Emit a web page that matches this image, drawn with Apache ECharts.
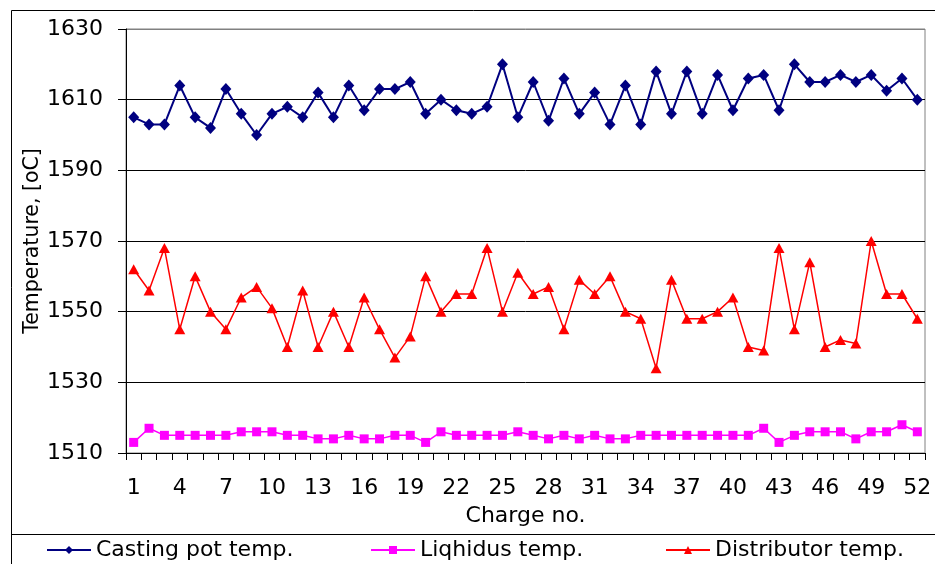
<!DOCTYPE html>
<html>
<head>
<meta charset="utf-8">
<script src="https://cdn.jsdelivr.net/npm/echarts@6/dist/echarts.min.js"></script>
<style>
  html, body { margin: 0; padding: 0; background: #fff; }
  #chart { width: 935px; height: 564px; }
</style>
</head>
<body>
<div id="chart"></div>
<script>
// Charge numbers 1..52
const charges = ['1','2','3','4','5','6','7','8','9','10','11','12','13','14','15','16','17','18','19','20','21','22','23','24','25','26','27','28','29','30','31','32','33','34','35','36','37','38','39','40','41','42','43','44','45','46','47','48','49','50','51','52'];

const castingPot = [1605,1603,1603,1614,1605,1602,1613,1606,1600,1606,
                    1608,1605,1612,1605,1614,1607,1613,1613,1615,1606,
                    1610,1607,1606,1608,1620,1605,1615,1604,1616,1606,
                    1612,1603,1614,1603,1618,1606,1618,1606,1617,1607,
                    1616,1617,1607,1620,1615,1615,1617,1615,1617,1612.5,
                    1616,1610];

const liquidus = [1513,1517,1515,1515,1515,1515,1515,1516,1516,1516,
                  1515,1515,1514,1514,1515,1514,1514,1515,1515,1513,
                  1516,1515,1515,1515,1515,1516,1515,1514,1515,1514,
                  1515,1514,1514,1515,1515,1515,1515,1515,1515,1515,
                  1515,1517,1513,1515,1516,1516,1516,1514,1516,1516,
                  1518,1516];

const distributor = [1562,1556,1568,1545,1560,1550,1545,1554,1557,1551,
                     1540,1556,1540,1550,1540,1554,1545,1537,1543,1560,
                     1550,1555,1555,1568,1550,1561,1555,1557,1545,1559,
                     1555,1560,1550,1548,1534,1559,1548,1548,1550,1554,
                     1540,1539,1568,1545,1564,1540,1542,1541,1570,1555,
                     1555,1548];

const yMin = 1510, yMax = 1630, yStep = 20;

const FONT = '"DejaVu Sans", "Liberation Sans", Arial, sans-serif';

const chart = echarts.init(document.getElementById('chart'), null, { renderer: 'canvas' });

const legendText = { color: '#000', fontSize: 22, fontFamily: FONT };
function legendAt(name, left) {
  return {
    data: [name], left: left, top: 539, itemWidth: 44, itemHeight: 10,
    itemGap: 0, padding: 0, textStyle: legendText, selectedMode: false
  };
}

chart.setOption({
  animation: false,
  backgroundColor: '#fff',
  textStyle: { fontFamily: FONT },
  grid: {
    left: 126, right: 10, top: 29, bottom: 111,
    show: true, borderColor: '#808080', borderWidth: 1, backgroundColor: 'transparent'
  },
  legend: [
    legendAt('Casting pot temp.', 46),
    legendAt('Liqhidus temp.', 370),
    legendAt('Distributor temp.', 665)
  ],
  graphic: [
    { type: 'rect', silent: true, z: -1,
      shape: { x: 11.5, y: 10.5, width: 940, height: 580 },
      style: { fill: 'none', stroke: '#000', lineWidth: 1 } },
    { type: 'line', silent: true,
      shape: { x1: 11, y1: 534.5, x2: 935, y2: 534.5 },
      style: { stroke: '#000', lineWidth: 1 } }
  ],
  xAxis: {
    type: 'category',
    data: charges,
    boundaryGap: true,
    name: 'Charge no.',
    nameLocation: 'middle',
    nameGap: 52,
    nameTextStyle: { color: '#000', fontSize: 22, fontFamily: FONT },
    axisLine: { lineStyle: { color: '#000', width: 1 } },
    axisTick: { show: true, interval: 0, length: 7, alignWithLabel: false, lineStyle: { color: '#000' } },
    axisLabel: { interval: 2, color: '#000', fontSize: 22, fontFamily: FONT, margin: 24 },
    splitLine: { show: false }
  },
  yAxis: {
    type: 'value',
    min: yMin, max: yMax, interval: yStep,
    name: 'Temperature, [oC]',
    nameLocation: 'middle',
    nameGap: 83,
    nameRotate: 90,
    nameMoveOverlap: false,
    nameTextStyle: { color: '#000', fontSize: 20.5, fontFamily: FONT },
    axisLine: { show: true, lineStyle: { color: '#000', width: 1 } },
    axisTick: { show: true, length: 8, lineStyle: { color: '#000' } },
    axisLabel: { color: '#000', fontSize: 22, fontFamily: FONT, margin: 23,
                 formatter: function (v) { return String(v); } },
    splitLine: { show: true, lineStyle: { color: ['#000','#000','#000','#000','#000','#000','#808080'], width: 1 } }
  },
  series: [
    {
      name: 'Casting pot temp.', type: 'line', data: castingPot,
      symbol: 'diamond', symbolSize: [11, 12], showAllSymbol: true,
      lineStyle: { color: '#000080', width: 2 },
      itemStyle: { color: '#000080' }, z: 3
    },
    {
      name: 'Liqhidus temp.', type: 'line', data: liquidus,
      symbol: 'rect', symbolSize: 9, showAllSymbol: true,
      lineStyle: { color: '#FF00FF', width: 1.5 },
      itemStyle: { color: '#FF00FF' }, z: 3
    },
    {
      name: 'Distributor temp.', type: 'line', data: distributor,
      symbol: 'triangle', symbolSize: [11, 10], showAllSymbol: true,
      lineStyle: { color: '#FF0000', width: 1.5 },
      itemStyle: { color: '#FF0000' }, z: 3
    }
  ]
});
</script>
</body>
</html>
